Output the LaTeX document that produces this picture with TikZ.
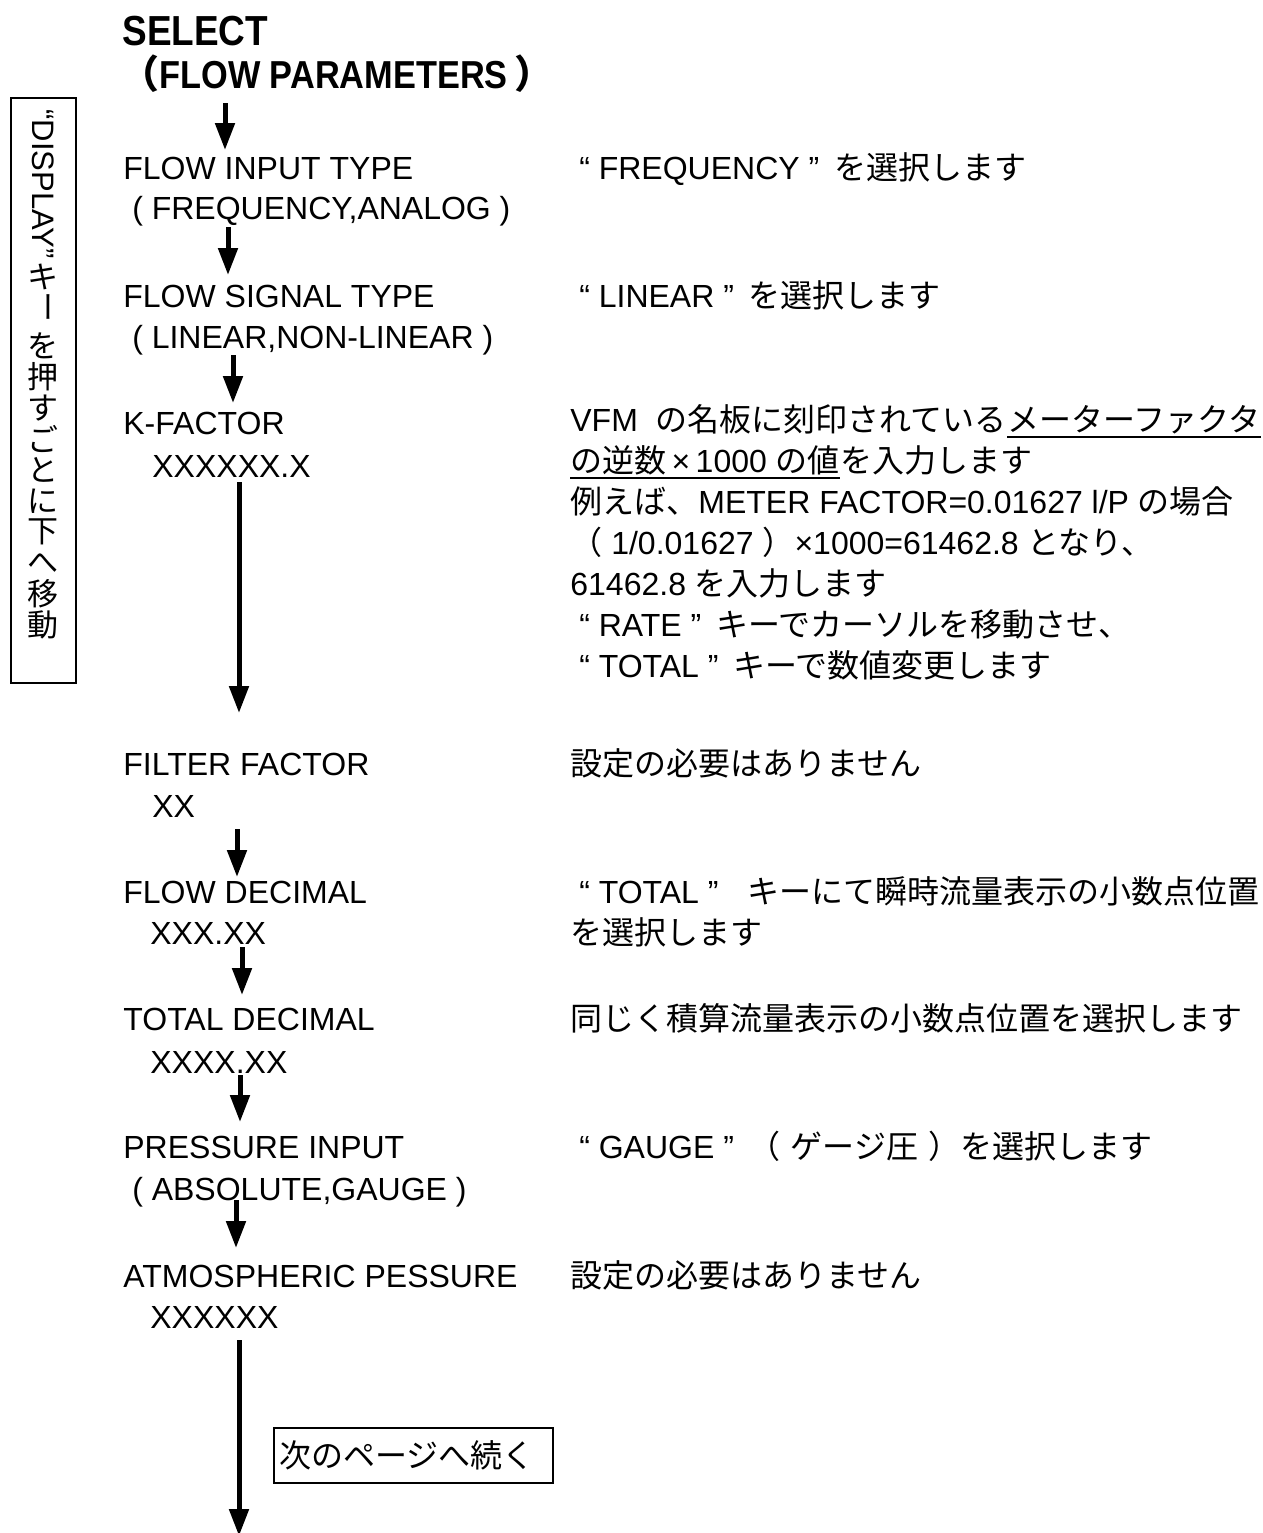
\documentclass[tikz,border=0pt]{standalone}
\usepackage{fontspec}
\setmainfont{Liberation Sans}
\newfontfamily\jp{Noto Sans CJK JP}
\newfontfamily\ttl[FakeStretch=0.88]{Liberation Sans}
\usetikzlibrary{arrows.meta,calc}
\begin{document}
\begin{tikzpicture}[x=0.5pt,y=-0.5pt,
  lbl/.style={anchor=base west,inner sep=0pt,font=\fontsize{16pt}{19pt}\selectfont},
  vch/.style={inner sep=0pt,font=\fontsize{15.5pt}{15.5pt}\selectfont},
  flow/.style={line width=2.5pt,-{Triangle[width=9.5pt,length=13.5pt]}},
  uline/.style={line width=1.1pt},
  frame/.style={draw,line width=1pt,inner sep=0pt}]
\useasboundingbox[fill=white] (0,0) rectangle (1263,1533);

% ---- left vertical box
\node[frame,anchor=north west,minimum width=32.5pt,minimum height=292.5pt] (keybox) at (10,97) {};
\node[vch,rotate=-90] (vdisp) at (43,184) {“DISPLAY”};
\node[vch,rotate=-90] (vbar) at (43,307) {\jp ー};
\foreach \ch/\yy [count=\i] in {キ/277,を/346,押/377,す/408,ご/439,と/470,に/501,下/532,へ/563,移/594,動/625}
  \node[vch] (vj\i) at (43,\yy) {\jp \ch};

% ---- title
\node[lbl,font=\ttl\bfseries\fontsize{21pt}{24pt}\selectfont] (sel) at (122,45) {SELECT};
\node[lbl,font=\ttl\bfseries\fontsize{19.5pt}{22pt}\selectfont] (flowp) at (120,88) {{\jp\bfseries （}FLOW PARAMETERS\,{\jp\bfseries ）}};

% ---- left column
\node[lbl] (fit)  at (123,179) {FLOW INPUT TYPE};
\node[lbl] (fit2) at (123,219) {\ ( FREQUENCY,ANALOG )};
\node[lbl] (fst)  at (123,307) {FLOW SIGNAL TYPE};
\node[lbl] (fst2) at (123,348) {\ ( LINEAR,NON-LINEAR )};
\node[lbl] (kf)   at (123,434) {K-FACTOR};
\node[lbl] (kf2)  at (152,477) {XXXXXX.X};
\node[lbl] (ff)   at (123,775) {FILTER FACTOR};
\node[lbl] (ff2)  at (152,817) {XX};
\node[lbl] (fd)   at (123,903) {FLOW DECIMAL};
\node[lbl] (fd2)  at (150,944) {XXX.XX};
\node[lbl] (td)   at (123,1030) {TOTAL DECIMAL};
\node[lbl] (td2)  at (150,1073) {XXXX.XX};
\node[lbl] (pi)   at (123,1158) {PRESSURE INPUT};
\node[lbl] (pi2)  at (123,1200) {\ ( ABSOLUTE,GAUGE )};
\node[lbl] (ap)   at (123,1287) {ATMOSPHERIC PESSURE};
\node[lbl] (ap2)  at (150,1328) {XXXXXX};

% ---- arrows
\coordinate (a1s) at (225,103);  \coordinate (a1e) at (225,150);
\coordinate (a2s) at (228,227);  \coordinate (a2e) at (228,275);
\coordinate (a3s) at (233,355);  \coordinate (a3e) at (233,403);
\coordinate (a4s) at (239,482);  \coordinate (a4e) at (239,713);
\coordinate (a5s) at (237,829);  \coordinate (a5e) at (237,877);
\coordinate (a6s) at (242,947);  \coordinate (a6e) at (242,995);
\coordinate (a7s) at (240,1075); \coordinate (a7e) at (240,1122);
\coordinate (a8s) at (236,1200); \coordinate (a8e) at (236,1248);
\coordinate (a9s) at (239,1340); \coordinate (a9e) at (239,1536);
\foreach \k in {1,...,9} \draw[flow] (a\k s) -- (a\k e);

% ---- continuation box
\node[frame,anchor=north west,minimum width=139.5pt,minimum height=27.5pt,
      text width=134pt,align=left,inner xsep=2pt,
      font=\fontsize{16pt}{19pt}\selectfont] (nextpg) at (273,1427) {\jp 次のページへ続く};

% ---- right column
\node[lbl] (r1) at (570,179) {\ “ FREQUENCY ”\hspace{3pt} {\jp を選択します}};
\node[lbl] (r2) at (570,307) {\ “ LINEAR ”\hspace{3pt} {\jp を選択します}};

\node[lbl] (k1a) at (570,431) {VFM\ \ {\jp の名板に刻印されている}};
\node[lbl] (k1b) at (k1a.base east) {\jp メーターファクタ};
\node[lbl] (k2a) at (570,472) {{\jp の逆数}\,×\,1000 {\jp の値}};
\node[lbl] (k2b) at (k2a.base east) {\jp を入力します};
\node[lbl] (k3) at (570,513) {{\jp 例えば、}METER FACTOR=0.01627 l/P {\jp の場合}};
\node[lbl] (k4) at (570,554) {{\jp （}\ 1/0.01627\ {\jp ）}×1000=61462.8 {\jp となり、}};
\node[lbl] (k5) at (570,595) {61462.8 {\jp を入力します}};
\node[lbl] (k6) at (570,636) {\ “ RATE ”\hspace{3pt} {\jp キーでカーソルを移動させ、}};
\node[lbl] (k7) at (570,677) {\ “ TOTAL ”\hspace{3pt} {\jp キーで数値変更します}};
\draw[uline] ($(k1b.base west)+(0,6)$) -- ($(k1b.base east)+(0,6)$);
\draw[uline] ($(k2a.base west)+(0,6)$) -- ($(k2a.base east)+(0,6)$);

\node[lbl] (r4) at (570,775) {\jp 設定の必要はありません};
\node[lbl] (r5) at (570,903) {\ “ TOTAL ”\hspace{10pt} {\jp キーにて瞬時流量表示の小数点位置}};
\node[lbl] (r5b) at (570,944) {\jp を選択します};
\node[lbl] (r6) at (570,1030) {\jp 同じく積算流量表示の小数点位置を選択します};
\node[lbl] (r7) at (570,1158) {\ “ GAUGE ”\hspace{3pt} {\jp （\hspace{5pt}ゲージ圧\hspace{5pt}）を選択します}};
\node[lbl] (r8) at (570,1287) {\jp 設定の必要はありません};
\end{tikzpicture}
\end{document}
